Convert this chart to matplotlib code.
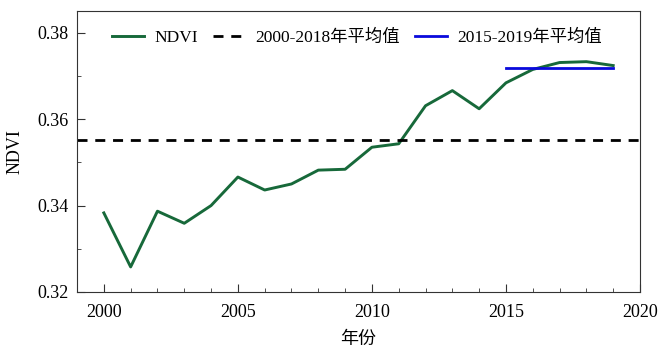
import matplotlib
matplotlib.use("Agg")
import matplotlib.pyplot as plt
import matplotlib.ticker as mticker

plt.rcParams['font.family'] = ['Liberation Serif', 'Noto Sans CJK SC']

years = list(range(2000, 2020))
ndvi = [0.3383, 0.3258, 0.3387, 0.3359, 0.3400, 0.3466, 0.3436, 0.3450, 0.3482, 0.3484,
        0.3535, 0.3543, 0.3631, 0.3666, 0.3624, 0.3684, 0.3715, 0.3731, 0.3733, 0.3724]
mean_all = 0.3552          # 2000-2018 average
mean_recent = 0.3718       # 2015-2019 average
recent_years = [2015, 2019]

fig = plt.figure(figsize=(6.71, 3.56), dpi=100)
ax = fig.add_axes([0.1148, 0.1798, 0.839, 0.789])

ax.plot(years, ndvi, color="#17693a", lw=2.1, label="NDVI")
ax.axhline(mean_all, color="black", lw=2.0, ls=(0, (3.6, 2.8)), label="2000-2018年平均值")
ax.plot(recent_years, [mean_recent, mean_recent], color="#0a0adc", lw=2.0,
        label="2015-2019年平均值")

ax.set_xlim(1999, 2020)
ax.set_ylim(0.32, 0.385)
ax.xaxis.set_major_locator(mticker.MultipleLocator(5))
ax.xaxis.set_minor_locator(mticker.MultipleLocator(1))
ax.yaxis.set_major_locator(mticker.MultipleLocator(0.02))
ax.yaxis.set_minor_locator(mticker.MultipleLocator(0.01))
ax.yaxis.set_major_formatter(mticker.FormatStrFormatter("%.2f"))
ax.tick_params(which="both", direction="in", labelsize=13, color="#333333")
ax.tick_params(which="major", length=5.5)
ax.tick_params(which="minor", length=3)
ax.tick_params(axis="x", pad=9)
ax.tick_params(axis="y", pad=6)
for s in ax.spines.values():
    s.set_color("#333333")

ax.set_xlabel("年份", fontsize=13, labelpad=7)
ax.set_ylabel("NDVI", fontsize=13, labelpad=10)

ax.legend(loc="upper left", ncol=3, frameon=False, fontsize=12.5,
          bbox_to_anchor=(0.035, 0.99), handlelength=1.85, handletextpad=0.55,
          columnspacing=0.9)

fig.savefig("out.png", dpi=100)
